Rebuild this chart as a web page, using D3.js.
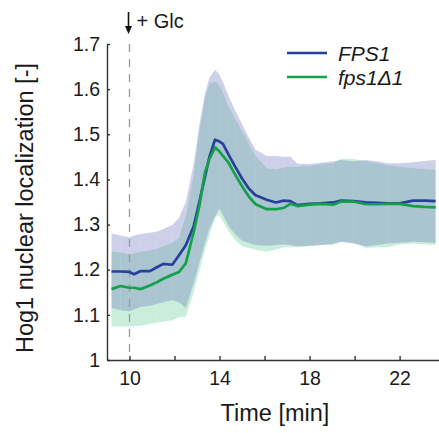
<!DOCTYPE html>
<html>
<head>
<meta charset="utf-8">
<script src="https://cdn.jsdelivr.net/npm/d3@7"></script>
<style>
  body { margin: 0; background: #fff; }
  svg { display: block; font-family: "Liberation Sans", Arial, Helvetica, sans-serif; }
</style>
</head>
<body>
<svg id="chart" width="439" height="433"></svg>
<script>
// time points [min]
const times = [9.2, 9.6, 10.0, 10.2, 10.5, 10.9, 11.2, 11.5, 11.9, 12.2, 12.5, 12.85, 13.1, 13.35, 13.55, 13.8, 14.0, 14.15, 14.4, 14.7,
  15.0, 15.3, 15.6, 16.1, 16.5, 16.85, 17.15, 17.45, 18.0, 18.5, 19.05, 19.4, 19.95, 20.5, 21.0, 21.45, 22.0, 22.6, 23.1, 23.6];

// FPS1 (wild type)
const fpsMean = [1.196, 1.196, 1.195, 1.190, 1.197, 1.197, 1.205, 1.213, 1.211, 1.232, 1.254, 1.296, 1.350, 1.405, 1.450, 1.488, 1.484, 1.479, 1.455, 1.428,
  1.402, 1.380, 1.365, 1.355, 1.349, 1.353, 1.352, 1.343, 1.346, 1.347, 1.349, 1.353, 1.352, 1.349, 1.348, 1.347, 1.347, 1.353, 1.353, 1.352];
const fpsUpper = [1.281, 1.276, 1.272, 1.276, 1.279, 1.282, 1.284, 1.290, 1.299, 1.315, 1.350, 1.435, 1.520, 1.590, 1.625, 1.643, 1.632, 1.615, 1.585, 1.552,
  1.522, 1.493, 1.466, 1.452, 1.452, 1.450, 1.450, 1.435, 1.434, 1.437, 1.440, 1.443, 1.440, 1.443, 1.440, 1.436, 1.436, 1.438, 1.441, 1.443];
const fpsLower = [1.115, 1.110, 1.108, 1.112, 1.118, 1.120, 1.124, 1.128, 1.133, 1.128, 1.115, 1.170, 1.215, 1.260, 1.290, 1.318, 1.335, 1.322, 1.297, 1.278,
  1.264, 1.259, 1.255, 1.253, 1.255, 1.256, 1.255, 1.252, 1.253, 1.255, 1.258, 1.262, 1.258, 1.252, 1.255, 1.258, 1.260, 1.262, 1.261, 1.260];

// fps1 delta mutant
const mutMean = [1.157, 1.164, 1.160, 1.160, 1.157, 1.165, 1.172, 1.180, 1.189, 1.195, 1.214, 1.283, 1.340, 1.415, 1.445, 1.471, 1.462, 1.452, 1.437, 1.410,
  1.385, 1.362, 1.345, 1.334, 1.334, 1.337, 1.346, 1.341, 1.344, 1.346, 1.344, 1.351, 1.351, 1.345, 1.345, 1.346, 1.346, 1.341, 1.339, 1.338];
const mutUpper = [1.240, 1.238, 1.233, 1.236, 1.240, 1.243, 1.246, 1.252, 1.259, 1.270, 1.320, 1.410, 1.505, 1.578, 1.612, 1.617, 1.608, 1.592, 1.562, 1.534,
  1.507, 1.480, 1.452, 1.425, 1.422, 1.426, 1.428, 1.428, 1.430, 1.434, 1.436, 1.445, 1.445, 1.440, 1.436, 1.432, 1.428, 1.425, 1.423, 1.421];
const mutLower = [1.075, 1.074, 1.074, 1.075, 1.076, 1.080, 1.083, 1.085, 1.088, 1.095, 1.096, 1.150, 1.197, 1.242, 1.275, 1.315, 1.321, 1.306, 1.285, 1.265,
  1.252, 1.248, 1.244, 1.240, 1.244, 1.250, 1.250, 1.250, 1.252, 1.255, 1.255, 1.262, 1.260, 1.248, 1.250, 1.250, 1.256, 1.258, 1.256, 1.255];

const yTicks = [1, 1.1, 1.2, 1.3, 1.4, 1.5, 1.6, 1.7];
const xTicks = [10, 12, 14, 16, 18, 20, 22];
const xLabels = [10, 14, 18, 22];
const glucoseTime = 10;
const seriesNames = ["FPS1", "fps1\u03941"];

const svg = d3.select("#chart");

const x = d3.scaleLinear().domain([9, 23.75]).range([107, 439]);
const y = d3.scaleLinear().domain([1, 1.7]).range([360, 44]);

const series = [
  { name: seriesNames[0], mean: fpsMean, upper: fpsUpper, lower: fpsLower, line: "#27409a", band: "#7079bd" },
  { name: seriesNames[1], mean: mutMean, upper: mutUpper, lower: mutLower, line: "#13a04b", band: "#65ce98" }
];

// shaded bands, one quad per time step so the seams show like the original
// mutant band first, wild type on top -> greyish teal overlap
const area = d3.area()
  .x(d => x(d.t))
  .y0(d => y(d.lo))
  .y1(d => y(d.hi));

series.slice().reverse().forEach(s => {
  const pts = times.map((t, i) => ({ t: t, hi: s.upper[i], lo: s.lower[i] }));
  const g = svg.append("g").attr("fill", s.band).attr("fill-opacity", 0.35);
  d3.range(pts.length - 1).forEach(i => {
    g.append("path").attr("d", area([pts[i], pts[i + 1]]));
  });
});

// glucose addition marker
svg.append("line")
  .attr("x1", x(glucoseTime)).attr("x2", x(glucoseTime))
  .attr("y1", y(1.7)).attr("y2", y(1))
  .attr("stroke", "#9a9a9a")
  .attr("stroke-width", 1.3)
  .attr("stroke-dasharray", "8,7");

const ax = x(glucoseTime) - 1;
svg.append("line")
  .attr("x1", ax).attr("x2", ax)
  .attr("y1", 12).attr("y2", 28)
  .attr("stroke", "#111")
  .attr("stroke-width", 1.6);
svg.append("path")
  .attr("d", `M${ax - 3.5},26 L${ax + 3.5},26 L${ax},34 Z`)
  .attr("fill", "#111");
svg.append("text")
  .attr("x", ax + 8)
  .attr("y", 28)
  .attr("font-size", "20px")
  .attr("fill", "#1a1a1a")
  .text("+ Glc");

// mean lines
const line = d3.line()
  .x((d, i) => x(times[i]))
  .y(d => y(d));

series.forEach(s => {
  svg.append("path")
    .datum(s.mean)
    .attr("d", line)
    .attr("fill", "none")
    .attr("stroke", s.line)
    .attr("stroke-width", 2.7)
    .attr("stroke-linejoin", "round");
});

// axes
const yAxis = svg.append("g")
  .attr("transform", "translate(107,0)")
  .call(d3.axisLeft(y)
    .tickValues(yTicks)
    .tickSizeInner(-3)
    .tickSizeOuter(0)
    .tickPadding(7)
    .tickFormat(d => d === 1 ? "1" : d3.format(".1f")(d)));

const xAxis = svg.append("g")
  .attr("transform", "translate(0,360)")
  .call(d3.axisBottom(x)
    .tickValues(xTicks)
    .tickSizeInner(-4)
    .tickSizeOuter(0)
    .tickPadding(11)
    .tickFormat(d => xLabels.includes(d) ? d : ""));

[yAxis, xAxis].forEach(a => {
  a.select(".domain").attr("stroke", "#333").attr("stroke-width", 1.4);
  a.selectAll(".tick line").attr("stroke", "#333").attr("stroke-width", 1.4);
  a.selectAll(".tick text")
    .attr("font-size", "19.5px")
    .attr("font-family", "\"Liberation Sans\", Arial, sans-serif")
    .attr("fill", "#1a1a1a");
});

svg.append("text")
  .attr("transform", "translate(33,208) rotate(-90)")
  .attr("text-anchor", "middle")
  .attr("font-size", "23.5px")
  .attr("fill", "#1a1a1a")
  .text("Hog1 nuclear localization [-]");

svg.append("text")
  .attr("x", 275)
  .attr("y", 421)
  .attr("text-anchor", "middle")
  .attr("font-size", "23.5px")
  .attr("fill", "#1a1a1a")
  .text("Time [min]");

// legend
const legend = svg.append("g").attr("transform", "translate(287,53)");
series.forEach((s, i) => {
  legend.append("line")
    .attr("x1", 0).attr("x2", 40)
    .attr("y1", i * 24).attr("y2", i * 24)
    .attr("stroke", s.line)
    .attr("stroke-width", 2.7);
  legend.append("text")
    .attr("x", 51)
    .attr("y", i * 24 + 8)
    .attr("font-size", "21px")
    .attr("font-style", "italic")
    .attr("fill", "#1a1a1a")
    .text(s.name);
});
</script>
</body>
</html>
